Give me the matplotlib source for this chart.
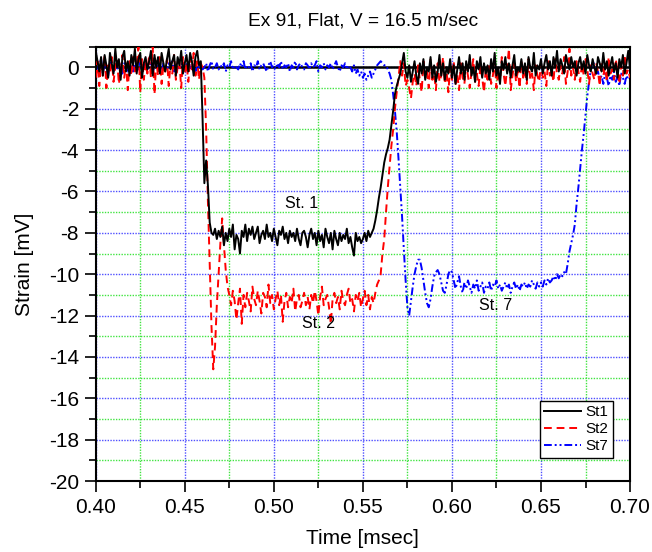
import matplotlib.pyplot as plt
from matplotlib.ticker import MultipleLocator
import numpy as np

plt.rcParams['font.family'] = ['Liberation Sans', 'DejaVu Sans']
plt.rcParams['axes.unicode_minus'] = False

# time base (msec), one sample every 0.001 msec
t_start = 0.40
t_end = 0.70

# St1 (black) strain [mV]
st1 = [
    0.8, 0.3, -0.2, 0.5, -0.4, 0.6, 0.1, -0.5, 0.7, 0.2,
    -0.3, 0.9, 0.0, 0.4, -0.6, 0.5, 0.8, -0.2, 0.3, -0.4,
    0.6, 0.1, 0.9, -0.3, 0.4, 0.7, -0.5, 0.2, 0.5, -0.1,
    0.3, 0.8, -0.4, 0.6, 0.0, 0.5, -0.3, 0.7, 0.2, -0.2,
    0.4, 0.9, -0.1, 0.3, 0.6, -0.4, 0.5, 0.1, 0.8, -0.3,
    0.2, 0.6, -0.2, 0.7, 0.3, -0.4, 0.5, 0.8, 0.1, 0.3,
    -2.5, -5.6, -4.5, -5.7, -7.5, -8.0, -8.1, -7.8, -8.3, -7.9,
    -8.2, -7.7, -8.6, -8.0, -8.4, -7.8, -8.2, -7.6, -8.8, -8.1,
    -8.3, -9.0, -7.9, -8.2, -7.6, -8.4, -7.8, -8.1, -7.7, -8.3,
    -8.0, -7.7, -8.5, -8.1, -7.9, -8.3, -7.6, -8.2, -8.0, -8.4,
    -7.8, -8.2, -8.6, -7.9, -8.1, -7.7, -8.3, -8.0, -8.5, -7.9,
    -8.2, -8.0, -8.4, -7.8, -8.3, -8.6, -8.0, -7.9, -8.2, -8.7,
    -8.1, -7.8, -8.3, -8.0, -8.6, -7.9, -8.4, -8.1, -8.7, -7.8,
    -8.2, -8.5, -8.0, -8.8, -7.9, -8.3, -8.6, -8.0, -8.4, -8.1,
    -8.3, -7.8, -8.5, -8.2, -8.7, -9.1, -8.0, -8.4, -8.2, -8.5,
    -8.3, -8.0, -8.4, -7.9, -8.2, -8.0, -7.8, -7.4, -6.9, -6.3,
    -5.8, -5.2, -4.6, -4.2, -3.9, -3.5, -2.8, -2.1, -1.3, -0.9,
    -0.6, -0.3, 0.2, 0.7, -0.2, -0.5, 0.1, -0.7, -0.2, 0.3,
    -0.4, -0.8, 0.2, -0.3, 0.4, -0.6, 0.0, -0.2, 0.5, -0.5,
    0.1, -0.7, -0.2, 0.6, -0.4, 0.2, -0.6, 0.0, -0.3, 0.4,
    -0.5, 0.1, -0.8, -0.1, 0.5, -0.3, 0.2, -0.6, 0.3, -0.2,
    0.6, -0.4, 0.0, -0.7, 0.3, -0.1, 0.5, -0.5, 0.2, -0.3,
    0.1, -0.6, 0.4, -0.2, 0.7, -0.4, 0.0, -0.8, 0.3, -0.1,
    0.5, -0.3, 0.2, -0.5, 0.1, 0.6, -0.4, 0.0, -0.2, 0.4,
    -0.3, 0.2, -0.6, 0.5, 0.0, -0.2, 0.7, -0.4, 0.1, -0.1,
    0.4, -0.3, 0.2, 0.6, -0.1, 0.3, -0.4, 0.5, 0.0, 0.8,
    -0.2, 0.4, 0.1, -0.3, 0.6, 0.2, -0.1, 0.5, 0.0, 0.3,
    -0.4, 0.2, 0.5, -0.1, 0.3, -0.3, 0.6, 0.1, -0.2, 0.4,
    0.0, -0.3, 0.5, 0.2, -0.2, 0.7, -0.1, 0.3, -0.4, 0.1,
    0.5, -0.2, 0.2, -0.5, 0.4, 0.0, 0.6, -0.3, 0.2, 0.8, -0.1,
]

# St2 (red) strain [mV]
st2 = [
    -0.5, 0.3, -0.9, 0.2, -0.4, 0.6, -1.0, 0.1, -0.3, 0.5,
    -0.7, 0.0, 0.4, -0.8, -0.2, 0.6, -0.5, 0.2, -1.1, 0.3,
    -0.4, 0.5, -0.2, 0.1, 1.0, -1.2, 0.4, -0.6, 0.2, -0.3,
    0.6, -0.5, 1.0, -1.3, 0.3, -0.4, 0.5, -0.8, 0.1, -0.2,
    0.4, -0.9, 0.2, -0.3, 0.6, -0.6, 0.0, 0.3, -1.0, 0.5,
    -0.3, 0.2, -0.7, 0.5, -0.1, 0.7, -0.4, 0.3, -0.6, 0.2,
    0.0, -0.5, -3.0, -6.5, -9.5, -12.5, -14.6, -13.5, -11.5, -10.0,
    -8.5, -7.3, -8.6, -9.8, -10.6, -11.0, -11.5, -10.8, -11.3, -12.2,
    -11.4, -10.7, -12.4, -11.0, -11.6, -10.9, -11.3, -11.8, -10.6, -11.2,
    -11.5, -10.8, -11.3, -11.9, -10.9, -11.1, -11.6, -10.5, -11.4, -11.0,
    -11.7, -11.2, -10.8, -11.5, -11.0, -12.3, -11.3, -10.9, -11.6, -11.1,
    -11.4, -10.7, -11.8, -11.2, -11.0, -11.6, -11.3, -10.9, -11.5, -11.1,
    -11.7, -11.0, -11.4, -10.8, -11.3, -12.0, -11.1, -10.6, -11.5, -11.2,
    -11.0, -11.6, -12.4, -11.2, -10.9, -11.4, -11.1, -11.7, -10.8, -11.3,
    -11.5, -11.0, -10.7, -11.4, -11.2, -11.8, -11.0, -11.3, -10.9, -11.6,
    -11.2, -10.8, -11.5, -11.0, -11.7, -11.1, -11.4, -10.9, -10.5, -10.3,
    -10.0, -9.0, -8.3, -7.0, -5.8, -4.8, -3.8, -3.0, -2.0, -1.2,
    -0.5, 0.3, -0.4, 0.2, -0.9, -0.6, -1.0, -1.5, -0.7, -0.3,
    -0.9, 0.1, -0.6, -1.2, 0.3, -0.5, -0.2, -1.0, 0.4, -0.6,
    -0.3, -1.1, 0.2, -0.7, -0.4, 0.5, -0.8, -0.2, -1.2, 0.0,
    -0.6, 0.3, -0.9, -0.3, -1.1, 0.2, -0.5, -0.8, 0.1, -0.4,
    -1.0, -0.2, 0.4, -0.7, -0.3, -0.9, 0.1, -0.5, -1.2, -0.1,
    -0.6, 0.2, -0.8, -0.4, 0.3, -1.0, -0.2, -0.7, 0.5, -0.3,
    -0.9, 0.0, 0.9, -1.1, -0.4, 0.2, -0.7, -0.2, -1.0, 0.3,
    -0.5, -0.1, -0.8, 0.4, -0.6, -0.3, -1.1, 0.1, -0.4, -0.7,
    0.2, -0.5, -0.2, -0.9, 0.3, -0.4, -0.1, -0.7, 0.4, -0.3,
    -0.6, 0.1, -0.3, 0.5, -0.8, -0.2, 0.9, -0.4, 0.0, -0.6,
    0.3, -0.2, -0.7, 0.2, -0.4, 0.4, -0.1, -0.8, 0.1, -0.3,
    -0.6, 0.2, -0.2, -0.9, 0.3, -0.4, 0.0, -0.7, 0.5, -0.3,
    -0.1, -0.6, 0.4, -0.2, -0.8, 0.1, -0.4, 0.6, -0.3, -0.1, -0.5,
]

# St7 (blue) strain [mV]
st7 = [
    0.3, -0.2, 0.1, 0.4, -0.3, 0.2, 0.0, -0.4, 0.3, 0.1,
    -0.2, 0.2, -0.1, 0.3, 0.0, -0.3, 0.2, 0.1, -0.2, 0.3,
    0.0, -0.2, 0.2, 0.1, -0.1, 0.3, -0.2, 0.0, 0.2, -0.1,
    0.1, 0.3, -0.2, 0.0, 0.2, -0.1, 0.1, -0.3, 0.2, 0.0,
    -0.1, 0.2, 0.0, 0.3, -0.2, 0.1, 0.0, -0.1, 0.2, 0.1,
    -0.2, 0.1, 0.3, 0.0, -0.1, 0.2, -0.2, 0.1, 0.0, 0.2,
    -0.1, 0.0, 0.2, -0.2, 0.1, 0.3, -0.1, 0.0, 0.2, -0.1,
    0.1, 0.0, 0.2, -0.2, 0.1, 0.0, 0.3, -0.1, 0.1, 0.0,
    -0.1, 0.2, 0.0, 0.3, -0.1, 0.1, 0.0, 0.2, -0.2, 0.1,
    0.0, 0.3, -0.1, 0.1, 0.2, 0.0, -0.2, 0.1, 0.3, 0.0,
    0.1, -0.1, 0.2, 0.0, 0.3, -0.1, 0.1, 0.0, 0.2, -0.2,
    0.1, 0.0, 0.3, -0.1, 0.1, 0.2, 0.0, -0.1, 0.2, 0.1,
    -0.1, 0.2, 0.0, 0.1, 0.3, -0.2, 0.1, 0.0, 0.2, -0.1,
    0.1, 0.0, 0.2, -0.1, 0.1, 0.3, 0.0, -0.2, 0.1, 0.0,
    0.2, -0.1, 0.1, 0.0, -0.2, 0.1, -0.3, -0.1, -0.4, -0.2,
    -0.5, -0.3, -0.6, -0.4, -0.2, -0.5, -0.3, -0.1, 0.1, 0.2,
    0.3, 0.2, 0.1, 0.1, -0.1, -0.3, -0.6, -1.3, -2.1, -3.1,
    -4.4, -5.8, -7.2, -8.8, -10.3, -11.6, -12.0, -11.3, -10.6, -10.0,
    -9.6, -9.3, -9.3, -9.7, -10.3, -10.9, -11.4, -11.6, -11.2, -10.6,
    -10.1, -9.9, -9.8, -10.0, -10.4, -10.8, -10.9, -10.5, -10.0, -9.8,
    -9.9, -10.3, -10.7, -10.4, -10.1, -10.6, -10.9, -10.4, -10.7, -10.3,
    -10.6, -10.9, -10.5, -10.7, -10.3, -10.8, -10.6, -10.4, -10.9, -10.6,
    -10.7, -10.4, -10.8, -10.5, -10.6, -10.3, -10.7, -10.5, -10.8, -10.6,
    -10.4, -10.7, -10.5, -10.9, -10.6, -10.4, -10.7, -10.5, -10.8, -10.5,
    -10.6, -10.4, -10.7, -10.5, -10.6, -10.3, -10.5, -10.7, -10.4, -10.6,
    -10.4, -10.6, -10.3, -10.5, -10.2, -10.4, -10.3, -10.1, -10.3, -10.0,
    -10.2, -10.0, -10.1, -9.9, -10.0, -9.5, -8.9, -8.5, -8.1, -7.6,
    -6.6, -5.8, -4.9, -4.0, -3.2, -2.3, -1.4, -0.7, -0.1, 0.3,
    0.1, -0.3, -0.2, -0.6, -0.4, -0.8, -0.3, -0.5, -0.9, -0.4,
    -0.6, -0.2, -0.7, -0.4, -0.9, -0.3, -0.5, -0.8, -0.4, -0.6, -0.5,
]

labels = ['St1', 'St2', 'St7']
notes = ['St. 1', 'St. 2', 'St. 7']
note_x = [0.5155, 0.5250, 0.6243]
note_y = [-6.6, -12.4, -11.5]

t1 = np.linspace(t_start, t_end, len(st1))
t2 = np.linspace(t_start, t_end, len(st2))
t7 = np.linspace(t_start, t_end, len(st7))

fig = plt.figure(figsize=(6.52, 5.52), dpi=100)
ax = fig.add_axes([0.1468, 0.1286, 0.8195, 0.7868])

ax.set_xlim(0.40, 0.70)
ax.set_ylim(-20, 1)
ax.xaxis.set_major_locator(MultipleLocator(0.05))
ax.xaxis.set_minor_locator(MultipleLocator(0.025))
ax.yaxis.set_major_locator(MultipleLocator(2))
ax.yaxis.set_minor_locator(MultipleLocator(1))

ax.grid(True, which='major', color='#3030ff', linestyle=(0, (1, 1)), linewidth=1.0, alpha=0.85)
ax.grid(True, which='minor', color='#20e020', linestyle=(0, (1, 1)), linewidth=1.0, alpha=0.85)
ax.set_axisbelow(True)

ax.axhline(0, color='black', linewidth=1.8, zorder=1.5)

ax.plot(t1, st1, color='black', linewidth=1.4, label=labels[0], zorder=4)
ax.plot(t2, st2, color='red', linewidth=1.4, linestyle=(0, (4, 2.5)), label=labels[1], zorder=3)
ax.plot(t7, st7, color='blue', linewidth=1.4, linestyle=(0, (4, 1.5, 1, 1.5, 1, 1.5)), label=labels[2], zorder=2)

for s, x, y in zip(notes, note_x, note_y):
    ax.text(x, y, s, fontsize=11.5, ha='center', va='center')

ax.tick_params(which='major', direction='out', length=8, width=1.2, labelsize=15, pad=4)
ax.tick_params(which='minor', direction='out', length=5, width=1.2)
for sp in ax.spines.values():
    sp.set_linewidth(1.5)

ax.set_xlabel('Time [msec]', fontsize=15, labelpad=9)
ax.set_ylabel('Strain [mV]', fontsize=15, labelpad=11)
ax.set_title('Ex 91, Flat, V = 16.5 m/sec', fontsize=13.8, pad=15)

leg = ax.legend(loc='lower right', bbox_to_anchor=(0.968, 0.053), fontsize=11,
                fancybox=False, framealpha=1, edgecolor='black', handlelength=2.4,
                borderpad=0.3, labelspacing=0.2, handletextpad=0.3, borderaxespad=0)
leg.get_frame().set_linewidth(1.0)

fig.savefig('out.png', dpi=100)
